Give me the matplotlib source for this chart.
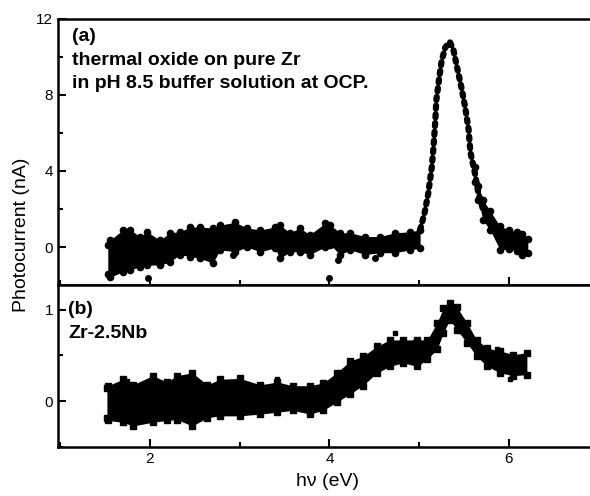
import matplotlib
matplotlib.use("Agg")
import matplotlib.pyplot as plt
from matplotlib.ticker import MultipleLocator

plt.rcParams['font.family'] = ['Liberation Sans', 'DejaVu Sans']

# ---- panel (a): thermal oxide on pure Zr ----
xa_band = [1.53, 1.55, 1.70, 1.78, 1.89, 1.97, 2.11, 2.22, 2.33, 2.45, 2.56, 2.70, 2.78, 2.95, 3.08,
           3.23, 3.39, 3.45, 3.56, 3.67, 3.78, 3.95, 4.01, 4.12, 4.23, 4.40, 4.56, 4.73, 4.90, 5.01]
ya_lo = [-1.4, -1.6, -1.3, -1.2, -1.05, -0.95, -0.95, -0.8, -0.4, -0.5, -0.6, -0.85, -0.15, -0.25, 0.0,
         -0.25, -0.05, -0.6, -0.25, -0.25, -0.4, 0.0, 0.1, -0.4, -0.15, -0.4, -0.3, -0.3, -0.15, -0.05]
ya_hi = [0.1, 0.35, 0.9, 0.9, 0.55, 0.8, 0.35, 0.75, 0.8, 1.05, 1.05, 1.0, 1.15, 1.3, 1.0,
         0.9, 1.05, 1.15, 0.75, 1.0, 0.65, 1.25, 1.15, 0.75, 0.75, 0.55, 0.55, 0.75, 0.8, 0.9]
xa_peak = [5.01, 5.06, 5.10, 5.14, 5.16, 5.18, 5.19, 5.22, 5.25, 5.29, 5.34, 5.38, 5.42, 5.47,
           5.51, 5.55, 5.57, 5.62, 5.66, 5.71]
ya_peak = [0.9, 1.8, 2.8, 4.2, 5.3, 6.7, 7.7, 8.8, 9.8, 10.5, 10.8, 10.4, 9.5, 8.4,
           7.4, 6.2, 5.0, 3.9, 2.8, 2.0]
xa_tail = [5.62, 5.66, 5.71, 5.79, 5.90, 6.00, 6.09, 6.15, 6.21]
ya_tail_lo = [3.4, 2.5, 1.4, 0.9, -0.15, -0.1, -0.2, -0.4, -0.3]
ya_tail_hi = [4.2, 3.2, 2.5, 1.9, 1.1, 0.9, 0.8, 0.7, 0.4]
xa_out = [1.98, 2.92, 4.09, 4.00, 4.51]
ya_out = [-1.63, -0.42, -0.68, -1.63, -0.58]

# ---- panel (b): Zr-2.5Nb ----
xb = [1.52, 1.53, 1.70, 1.81, 2.03, 2.19, 2.30, 2.47, 2.64, 2.78, 3.00, 3.23, 3.42, 3.59, 3.78, 3.93,
      4.08, 4.23, 4.37, 4.53, 4.67, 4.82, 4.98, 5.09, 5.20, 5.27, 5.34, 5.42, 5.53, 5.64, 5.76, 5.90,
      6.05, 6.20]
yb_lo = [-0.18, -0.21, -0.23, -0.27, -0.23, -0.21, -0.20, -0.27, -0.18, -0.16, -0.16, -0.14, -0.12,
         -0.10, -0.14, -0.10, -0.01, 0.08, 0.17, 0.31, 0.38, 0.42, 0.38, 0.46, 0.57, 0.75, 0.89, 0.78,
         0.64, 0.49, 0.38, 0.31, 0.28, 0.29]
yb_hi = [0.15, 0.17, 0.24, 0.18, 0.28, 0.21, 0.28, 0.31, 0.18, 0.24, 0.25, 0.18, 0.21, 0.17, 0.17,
         0.20, 0.31, 0.44, 0.49, 0.60, 0.67, 0.67, 0.67, 0.67, 0.86, 1.02, 1.07, 1.03, 0.86, 0.67, 0.58,
         0.55, 0.51, 0.53]
xb_out = [4.73, 4.95, 3.42, 5.87, 6.01, 1.74]
yb_out = [0.75, 0.65, 0.24, 0.57, 0.24, 0.22]

xticks_major = [2, 4, 6]

fig = plt.figure(figsize=(5.9, 4.96), dpi=100)
ax1 = fig.add_axes([0.0983, 0.4254, 0.9017, 0.5363])
ax2 = fig.add_axes([0.0983, 0.0988, 0.9017, 0.3266])

k = 'black'
ax1.fill_between(xa_band, ya_lo, ya_hi, color=k, lw=0)
ax1.plot(xa_band, ya_lo, 'o', color=k, ms=4.5)
ax1.plot(xa_band, ya_hi, 'o', color=k, ms=4.5)
ax1.plot(xa_peak, ya_peak, color=k, lw=4.5, ls=(0, (0.5, 0.9)), dash_capstyle='round')
ax1.fill_between(xa_tail, ya_tail_lo, ya_tail_hi, color=k, lw=0)
ax1.plot(xa_tail, ya_tail_lo, 'o', color=k, ms=4.5)
ax1.plot(xa_tail, ya_tail_hi, 'o', color=k, ms=4.5)
ax1.plot(xa_out, ya_out, 'o', color=k, ms=4)

ax2.fill_between(xb, yb_lo, yb_hi, color=k, lw=0)
ax2.plot(xb, yb_lo, 's', color=k, ms=4)
ax2.plot(xb, yb_hi, 's', color=k, ms=4)
ax2.plot(xb_out, yb_out, 's', color=k, ms=3.5)

for ax in (ax1, ax2):
    ax.set_xlim(0.975, 6.903)
    ax.xaxis.set_major_locator(MultipleLocator(2))
    ax.xaxis.set_minor_locator(MultipleLocator(1))
    ax.tick_params(which='both', direction='in', top=False, right=False, width=1.5,
                   labelsize=11)
    ax.tick_params(which='major', length=6)
    ax.tick_params(which='minor', length=3.5)
    ax.spines['right'].set_visible(False)
    for s in ('left', 'top', 'bottom'):
        ax.spines[s].set_linewidth(1.8)

ax1.set_ylim(-2, 12)
ax1.yaxis.set_major_locator(MultipleLocator(4))
ax1.yaxis.set_minor_locator(MultipleLocator(2))
ax1.tick_params(axis='x', labelbottom=False)

ax2.set_ylim(-0.5, 1.27)
ax2.yaxis.set_major_locator(MultipleLocator(1))
ax2.yaxis.set_minor_locator(MultipleLocator(0.5))
ax2.set_xticks(xticks_major)
ax2.set_xticklabels([str(v) for v in xticks_major])

fs = 14
ax1.text(0.026, 0.917, '(a)', transform=ax1.transAxes, fontsize=fs, fontweight='bold', va='baseline')
ax1.text(0.026, 0.827, 'thermal oxide on pure Zr', transform=ax1.transAxes, fontsize=fs,
         fontweight='bold', va='baseline')
ax1.text(0.026, 0.741, 'in pH 8.5 buffer solution at OCP.', transform=ax1.transAxes, fontsize=fs,
         fontweight='bold', va='baseline')
ax2.text(0.019, 0.821, '(b)', transform=ax2.transAxes, fontsize=fs, fontweight='bold', va='baseline')
ax2.text(0.019, 0.673, 'Zr-2.5Nb', transform=ax2.transAxes, fontsize=fs, fontweight='bold', va='baseline')

fig.text(22 / 590, 1 - 235 / 496, 'Photocurrent (nA)', rotation=90, ha='center', va='center', fontsize=14)
fig.text(328 / 590, 1 - 481 / 496, 'h\u03bd (eV)', ha='center', va='center', fontsize=14)

fig.savefig('out.png', dpi=100)
